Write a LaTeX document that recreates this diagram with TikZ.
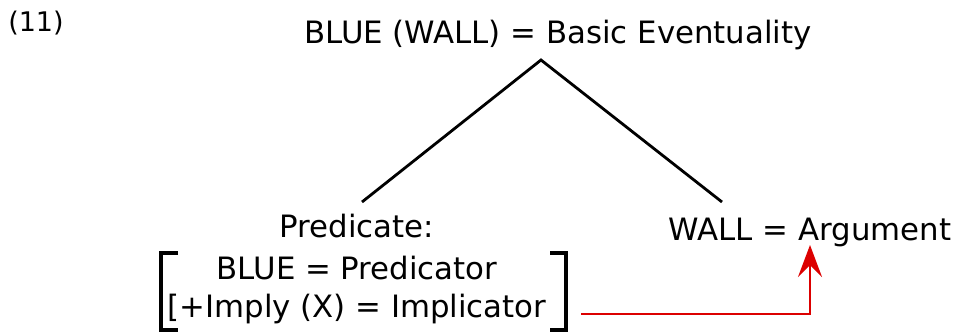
\documentclass[tikz,border=0pt]{standalone}
\usepackage{fontspec}
\setmainfont{DejaVu Sans}
\usetikzlibrary{arrows.meta}
\definecolor{arrred}{RGB}{220,0,0}
\begin{document}
\begin{tikzpicture}[x=1pt,y=-1pt,
  lbl/.style={inner sep=0pt,anchor=base,font=\fontsize{30.8}{36}\selectfont},
  branch/.style={line width=2.8pt,black},
  brk/.style={line width=3.4pt,black},
  link/.style={line width=2.2pt,arrred}]
\useasboundingbox (0,0) rectangle (959,332);
\node[lbl,font=\fontsize{27}{32}\selectfont] (num) at (36,31) {(11)};
\node[lbl] (top) at (558,43) {BLUE (WALL) = Basic Eventuality};
\node[lbl] (pred) at (357,237) {Predicate:};
\node[lbl] (arg) at (810,240) {WALL = Argument};
\node[lbl] (bp) at (357,279) {BLUE = Predicator};
\node[lbl] (imp) at (357,317) {[+Imply (X) = Implicator};
\coordinate (apex) at (541,60);
\coordinate (lf) at (362,202);
\coordinate (rf) at (722,202);
\draw[branch] (lf) -- (apex) -- (rf);
\draw[brk] (178,253) -- (161,253) -- (161,330) -- (178,330);
\draw[brk] (550,253) -- (566,253) -- (566,330) -- (550,330);
\coordinate (ls) at (581,314);
\coordinate (corner) at (810,314);
\coordinate (tip) at (810,245);
\draw[link,-{Stealth[length=32pt,width=24pt,inset=12pt]}] (ls) -- (corner) -- (tip);
\end{tikzpicture}
\end{document}
